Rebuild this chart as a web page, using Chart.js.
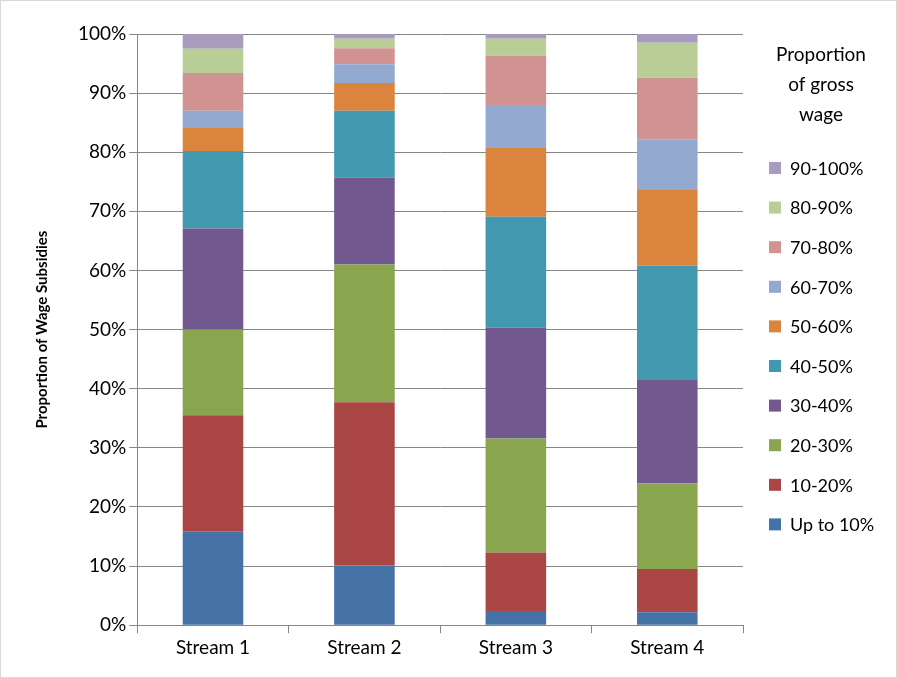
<!DOCTYPE html>
<html><head><meta charset="utf-8">
<script src="https://cdn.jsdelivr.net/npm/chart.js@4/dist/chart.umd.min.js"></script>
<style>
html,body{margin:0;padding:0;background:#fff}
#wrap{position:absolute;left:0;top:0;width:895px;height:676px;border:1px solid #d9d9d9}
</style></head>
<body><div id="wrap"><canvas id="c" width="895" height="676"></canvas></div>
<script>
const categories = ["Stream 1","Stream 2","Stream 3","Stream 4"];
const seriesNames = ["Up to 10%","10-20%","20-30%","30-40%","40-50%","50-60%","60-70%","70-80%","80-90%","90-100%"];
const legendTitle = ["Proportion","of gross","wage"];
const upTo10 = [15.9,10.1,2.4,2.2];
const s10_20 = [19.6,27.6,9.9,7.3];
const s20_30 = [14.5,23.3,19.3,14.5];
const s30_40 = [17.1,14.7,18.7,17.6];
const s40_50 = [13.1,11.3,18.8,19.2];
const s50_60 = [3.9,4.7,11.6,12.8];
const s60_70 = [2.9,3.2,7.3,8.5];
const s70_80 = [6.4,2.7,8.3,10.5];
const s80_90 = [4.1,1.6,2.9,5.9];
const s90_100 = [2.5,0.8,0.8,1.5];
const seriesValues = [upTo10,s10_20,s20_30,s30_40,s40_50,s50_60,s60_70,s70_80,s80_90,s90_100];
const colors = ["#4572A7","#AA4643","#89A54E","#71588F","#4198AF","#DB843D","#93A9CF","#D19392","#B9CD96","#A99BBD"];
const F = "Lato, 'Open Sans', sans-serif";
const legendPlugin = {
  id:'customLegend',
  afterDraw(chart){
    const ctx = chart.ctx; ctx.save();
    ctx.fillStyle='#000'; ctx.font='19px '+F; ctx.textAlign='center'; ctx.textBaseline='middle';
    legendTitle.forEach((t,i)=>ctx.fillText(t,820,54+i*30));
    ctx.textAlign='left'; ctx.font='18px '+F;
    const n = seriesNames.length;
    for(let k=0;k<n;k++){
      const i = n-1-k; const y = 167+k*39.6;
      ctx.fillStyle=colors[i]; ctx.fillRect(768,y-6,12,12);
      ctx.fillStyle='#000'; ctx.fillText(seriesNames[i],789,y+1);
    }
    ctx.restore();
  }
};
new Chart(document.getElementById('c'), {
  type: 'bar',
  data: { labels: categories, datasets: seriesNames.map((n,i)=>({label:n,data:seriesValues[i],backgroundColor:colors[i],borderWidth:0,categoryPercentage:1,barPercentage:0.4})) },
  options: {
    responsive:false, animation:false,
    layout:{padding:{left:28,top:33,right:153,bottom:15}},
    plugins:{ tooltip:{enabled:false}, legend:{display:false} },
    scales:{
      x:{stacked:true,grid:{display:true,drawOnChartArea:false,offset:true,color:'#868686',tickLength:8},border:{color:'#868686'},
        ticks:{color:'#000',font:{family:F,size:19}}},
      y:{stacked:true,min:0,max:100,grid:{color:'#868686',tickLength:8},border:{color:'#868686'},
        ticks:{stepSize:10,color:'#000',font:{family:F,size:19},callback:v=>v+'%'},
        title:{display:true,text:'Proportion of Wage Subsidies',color:'#000',font:{family:F,size:15,weight:'bold'},padding:{bottom:24}}}
    }
  },
  plugins:[legendPlugin]
});
</script></body></html>
